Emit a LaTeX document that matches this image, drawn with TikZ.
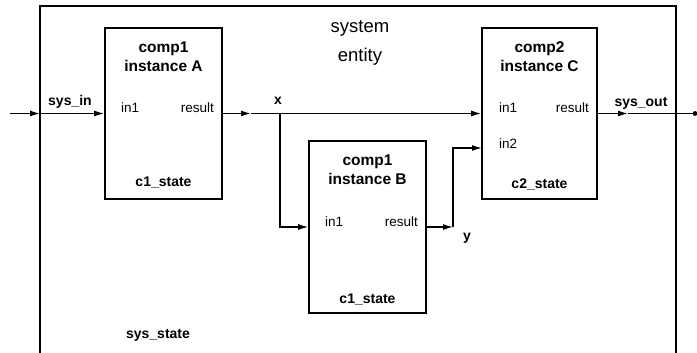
\documentclass[tikz,border=0pt]{standalone}
\usepackage{fontspec}
\setmainfont{Liberation Sans}
\usetikzlibrary{arrows.meta}

\tikzset{
  comp/.style={draw, line width=1.6pt, minimum width=117pt, inner sep=0pt},
  title/.style={font=\fontsize{15.5}{19}\selectfont\bfseries, align=center},
  port/.style={font=\fontsize{13.5}{15}\selectfont, inner sep=0pt},
  lbl/.style={font=\fontsize{14}{16}\selectfont\bfseries, inner sep=0pt},
  sig/.style={line width=1.3pt}
}

\begin{document}
\begin{tikzpicture}[x=1pt, y=-1pt, >={Latex[length=10pt,width=6pt]}]
\useasboundingbox (0,0) rectangle (697,353);
% system entity
\path[draw,line width=1.6pt] (40,360) -- (40,6) -- (676,6) -- (676,360);
\node[font=\fontsize{18.5}{20}\selectfont] (sys) at (360,28) {system};
\node[font=\fontsize{18.5}{20}\selectfont] (ent) at (360,57) {entity};
\node[lbl] (sysstate) at (158,335) {sys\_state};
% components
\node[comp, minimum height=171pt] (A) at (163.5,113.5) {};
\node[comp, minimum height=172pt] (B) at (367.5,227) {};
\node[comp, minimum width=115pt, minimum height=171pt] (C) at (539.5,113.5) {};
\node[title] (At) at (163.5,57) {comp1\\instance A};
\node[title] (Bt) at (367.5,170) {comp1\\instance B};
\node[title] (Ct) at (539.5,57) {comp2\\instance C};
\node[lbl] (As) at (163.5,183) {c1\_state};
\node[lbl] (Bs) at (367.5,300) {c1\_state};
\node[lbl] (Cs) at (539.5,184) {c2\_state};
% ports
\node[port, anchor=west] (Ain) at (121,108) {in1};
\node[port, anchor=east] (Aout) at (214,108) {result};
\node[port, anchor=west] (Bin) at (325,222) {in1};
\node[port, anchor=east] (Bout) at (418,222) {result};
\node[port, anchor=west] (Cin1) at (499,108) {in1};
\node[port, anchor=west] (Cin2) at (499,144) {in2};
\node[port, anchor=east] (Cout) at (589,108) {result};
% signals
\node[lbl] (sysin) at (70,102) {sys\_in};
\node[lbl] (x) at (278,101) {x};
\node[lbl] (y) at (467,238) {y};
\node[lbl] (sysout) at (641,103) {sys\_out};
\coordinate (s0) at (10,113.5);
\coordinate (s1) at (40,113.5);
\coordinate (xm) at (251,113.5);
\coordinate (xj) at (280,113.5);
\coordinate (yj) at (453,227);
\coordinate (c2) at (482,148);
\coordinate (o1) at (628,113.5);
\coordinate (o2) at (695,113.5);
\path[draw,sig,->] (s0) -- (s1);
\path[draw,sig,->] (s1) -- (A.west);
\path[draw,sig,->] (A.east) -- (xm);
\path[draw,sig,->] (xm) -- (C.west);
\path[draw,sig,->] (xj) |- (B.west);
\path[draw,sig,->] (B.east) -- (yj);
\path[draw,sig,->] (yj) |- (c2);
\path[draw,sig,->] (C.east) -- (o1);
\path[draw,sig] (o1) -- (o2);
\fill (o2) circle (2.4pt);
\end{tikzpicture}
\end{document}
